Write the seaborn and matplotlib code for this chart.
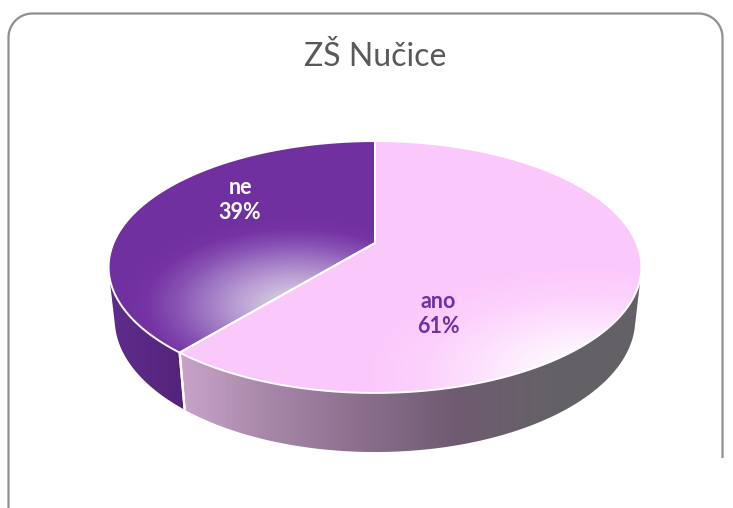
import numpy as np
import matplotlib
matplotlib.use("Agg")
import matplotlib.pyplot as plt
from matplotlib.patches import Polygon, PathPatch
from matplotlib.path import Path
import seaborn as sns

# ---------------- data ----------------
title = "ZŠ Nučice"
categories = ["ne", "ano"]
values = [39, 61]

# ---------------- style ----------------
sns.set_theme(style="white")
plt.rcParams['font.family'] = ['Lato', 'DejaVu Sans']

W, H = 733, 508
fig = plt.figure(figsize=(W / 100, H / 100), dpi=100)
ax = fig.add_axes([0, 0, 1, 1])
ax.set_xlim(0, W)
ax.set_ylim(H, 0)
ax.axis('off')

# perspective camera for the 3-D pie
CX, CY = 375, 243
FOC = 1216.0
DIST = 4.65
PHI = np.deg2rad(27.65)
DEPTH = 0.227


def proj(theta, r=1.0, z=0.0):
    X = r * np.cos(theta)
    Y = r * np.sin(theta)
    d = DIST + Y * np.cos(PHI) - z * np.sin(PHI)
    yc = Y * np.sin(PHI) + z * np.cos(PHI)
    return CX + FOC * X / d, CY - FOC * yc / d


yy, xx = np.mgrid[0:H, 0:W] + 0.5


def radial_img(cx, cy, rx, ry, colors, power=1.0):
    cmap = sns.blend_palette(colors, as_cmap=True)
    t = np.clip(np.sqrt(((xx - cx) / rx) ** 2 + ((yy - cy) / ry) ** 2), 0, 1) ** power
    return cmap(t)


def linear_img(x0, x1, colors):
    cmap = sns.blend_palette(colors, as_cmap=True)
    t = np.clip((xx - x0) / (x1 - x0), 0, 1)
    return cmap(t)


def fill_gradient(poly_xy, img, z):
    patch = Polygon(poly_xy, closed=True, facecolor='none', edgecolor='none', zorder=z)
    ax.add_patch(patch)
    im = ax.imshow(img, extent=(0, W, H, 0), origin='upper', zorder=z,
                   interpolation='bilinear')
    im.set_clip_path(patch)
    ax.set_xlim(0, W)
    ax.set_ylim(H, 0)


total = float(sum(values))
fracs = [v / total for v in values]
start = np.pi / 2
bounds = []
a = start
for f in fracs:
    bounds.append((a, a + 2 * np.pi * f))
    a += 2 * np.pi * f

# visible part of the side wall
s = np.arcsin(1.0 / (DIST * np.cos(PHI)))
vis0, vis1 = np.pi + s, 2 * np.pi - s

top_styles = [
    dict(cx=295, cy=305, rx=180, ry=92, power=1.0,
         colors=["#DCD4E6", "#CDBCDD", "#B89CD2", "#9F78C3", "#8751B3",
                 "#7533A3", "#7030A0"]),
    dict(cx=588, cy=372, rx=270, ry=130, power=1.0,
         colors=["#FFFFFF", "#FEF3FE", "#FDE2FD", "#FCD2FC", "#FBC9FB", "#FBC8FB"]),
]
wall_styles = [
    ["#5F2C8B", "#5A2884", "#53237A"],
    ["#C9A3CA", "#A586A7", "#8A6E8C", "#6F5B71", "#656166", "#646266"],
]

# walls
for i, (a0, a1) in enumerate(bounds):
    for off in (0.0, 2 * np.pi):
        t0 = max(a0, vis0 + off)
        t1 = min(a1, vis1 + off)
        if t1 > t0:
            th = np.linspace(t0, t1, 200)
            xt, yt = proj(th, 1.0, 0.0)
            xb, yb = proj(th[::-1], 1.0, -DEPTH)
            poly = np.column_stack([np.r_[xt, xb], np.r_[yt, yb]])
            xs = poly[:, 0]
            fill_gradient(poly, linear_img(xs.min(), xs.max(), wall_styles[i]), 2)

# separator lines on the wall
for (a0, a1) in bounds:
    for ang in (a0, a1):
        angm = ang % (2 * np.pi)
        if vis0 <= angm <= vis1:
            x0, y0 = proj(angm, 1.0, 0.0)
            x1, y1 = proj(angm, 1.0, -DEPTH)
            ax.plot([x0, x1], [y0, y1], color='white', lw=1.6, zorder=3,
                    solid_capstyle='butt')

# top faces
tops = []
for i, (a0, a1) in enumerate(bounds):
    th = np.linspace(a0, a1, 400)
    xa, ya = proj(th)
    cx0, cy0 = proj(0.0, 0.0)
    poly = np.column_stack([np.r_[cx0, xa], np.r_[cy0, ya]])
    st = top_styles[i]
    fill_gradient(poly, radial_img(st['cx'], st['cy'], st['rx'], st['ry'],
                                   st['colors'], st['power']), 4)
    tops.append(poly)

for poly in tops:
    ax.add_patch(Polygon(poly, closed=True, facecolor='none', edgecolor='white',
                         lw=1.4, zorder=5, joinstyle='miter'))

# labels
label_pos = [(240, 200), (438, 314)]
label_colors = ['white', '#7030A0']
for cat, v, (lx, ly), c in zip(categories, values, label_pos, label_colors):
    ax.text(lx, ly, f"{cat}\n{v / total * 100:.0f}%", ha='center', va='center',
            fontsize=15.5, fontweight='bold', color=c, linespacing=1.25, zorder=6)

# title
ax.text(375, 57, title, ha='center', va='center', fontsize=23, color='#595959', zorder=6)

# frame (rounded border)
L, T, R, B_r, rad = 8.5, 13.5, 722.5, 458, 24
ang = np.linspace(np.pi, 1.5 * np.pi, 30)
tl = np.column_stack([L + rad + rad * np.cos(ang), T + rad + rad * np.sin(ang)])
ang2 = np.linspace(1.5 * np.pi, 2 * np.pi, 30)
tr = np.column_stack([R - rad + rad * np.cos(ang2), T + rad + rad * np.sin(ang2)])
pts = np.vstack([[L, H + 5], tl, tr, [R, B_r]])
ax.add_patch(PathPatch(Path(pts), facecolor='none', edgecolor='#8f8f8f', lw=1.6, zorder=1))

fig.savefig("out.png", dpi=100)
